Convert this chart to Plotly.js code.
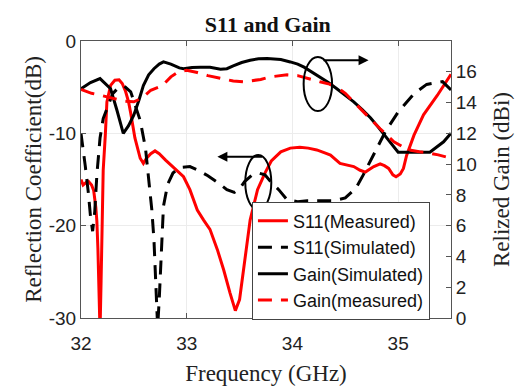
<!DOCTYPE html>
<html>
<head>
<meta charset="utf-8">
<script src="https://cdn.plot.ly/plotly-3.0.1.min.js"></script>
<style>html,body{margin:0;padding:0;background:#fff;}#chart{width:524px;height:386px;}</style>
</head>
<body>
<div id="chart"></div>
<script>
// ---- data ----
const s11MeasFreq = [32.00,32.02,32.05,32.07,32.10,32.12,32.14,32.15,32.16,32.17,32.18,32.19,32.20,32.21,32.23,32.245,32.28,32.32,32.36,32.39,32.42,32.45,32.47,32.51,32.56,32.59,32.62,32.66,32.70,32.74,32.80,32.86,32.91,32.97,33.03,33.10,33.16,33.22,33.29,33.35,33.41,33.46,33.50,33.55,33.60,33.67,33.74,33.80,33.89,33.98,34.07,34.15,34.23,34.30,34.36,34.45,34.52,34.58,34.64,34.69,34.73,34.77,34.83,34.87,34.91,34.95,34.98,35.02,35.05,35.08,35.15,35.24,35.37,35.50];
const s11MeasVal  = [-15.0,-15.6,-15.3,-15.2,-15.6,-16.2,-18.0,-19.5,-22.5,-26,-31.5,-26,-18,-14,-10.2,-6.6,-4.8,-4.25,-4.2,-4.6,-5.4,-6.6,-7.8,-10.5,-12.7,-13.25,-12.7,-12.2,-11.9,-12.2,-12.9,-13.5,-14.0,-14.7,-16.1,-18.3,-19.4,-20.4,-22.6,-24.8,-27.3,-29.2,-28,-23.7,-19.4,-16.1,-14.3,-13.0,-12.0,-11.6,-11.5,-11.6,-11.8,-12.1,-12.35,-13.25,-13.4,-13.6,-14.0,-14.2,-13.9,-13.6,-13.3,-13.5,-13.8,-14.5,-14.7,-14.4,-13.8,-12.4,-10.2,-8.0,-5.9,-3.6];

const s11SimFreq = [32.00,32.02,32.04,32.07,32.09,32.11,32.13,32.15,32.18,32.21,32.26,32.30,32.35,32.41,32.47,32.51,32.56,32.61,32.64,32.67,32.69,32.70,32.71,32.725,32.74,32.755,32.77,32.78,32.82,32.87,32.93,33.03,33.11,33.20,33.29,33.38,33.45,33.50,33.55,33.62,33.68,33.74,33.80,33.87,33.95,34.05,34.14,34.25,34.39,34.50,34.60,34.67,34.75,34.88,35.00,35.15,35.27,35.42,35.50];
const s11SimVal  = [-10.0,-11.5,-13.5,-16.5,-19,-20.6,-18.5,-14.5,-10.5,-8.4,-6.8,-5.7,-5.1,-4.9,-5.5,-6.9,-8.6,-11.6,-15.0,-18.3,-21.5,-24.8,-28,-31,-28,-24.4,-21.2,-17.9,-15.5,-14.3,-13.7,-13.6,-14.0,-14.6,-15.3,-16.1,-16.4,-16.0,-15.2,-14.5,-14.3,-14.5,-15.3,-16.1,-17.2,-17.4,-17.3,-17.3,-17.3,-17.0,-15.95,-14.5,-12.7,-9.8,-7.7,-5.7,-4.7,-4.4,-5.3];

const gainSimFreq = [32.00,32.09,32.18,32.28,32.34,32.40,32.45,32.50,32.55,32.59,32.64,32.69,32.74,32.78,32.85,32.93,32.97,33.05,33.13,33.22,33.32,33.38,33.44,33.52,33.60,33.68,33.76,33.89,33.98,34.05,34.11,34.18,34.26,34.34,34.42,34.50,34.58,34.66,34.74,34.80,34.86,34.93,35.00,35.30,35.43,35.50];
const gainSimVal  = [14.9,15.3,15.56,14.9,13.5,12.0,12.5,13.2,14.2,15.1,15.8,16.2,16.5,16.64,16.5,16.25,16.2,16.28,16.3,16.3,16.17,16.2,16.38,16.6,16.75,16.85,16.86,16.8,16.64,16.5,16.3,16.0,15.67,15.3,14.9,14.5,14.05,13.55,13.0,12.5,12.0,11.35,10.77,10.77,11.45,12.0];

const gainMeasFreq = [32.00,32.10,32.20,32.29,32.40,32.50,32.58,32.66,32.77,32.85,32.92,33.00,33.10,33.20,33.32,33.44,33.54,33.62,33.70,33.79,33.89,33.95,34.05,34.14,34.26,34.35,34.42,34.50,34.61,34.70,34.83,34.96,35.05,35.12,35.20,35.27,35.38,35.49];
const gainMeasVal  = [14.85,14.6,14.45,14.27,14.1,14.05,14.3,14.8,15.1,15.67,16.0,16.1,15.95,15.75,15.56,15.4,15.35,15.42,15.5,15.67,15.78,15.8,15.75,15.56,15.35,15.2,15.0,14.6,13.8,13.2,12.3,11.45,11.1,10.9,10.8,10.75,10.6,10.4];

const seriesNames = ['S11(Measured)','S11(Simulated)','Gain(Simulated)','Gain(measured)'];
const xTickVals = [32,33,34,35];
const yLeftTicks = [-30,-20,-10,0];
const yRightTicks = [0,2,4,6,8,10,12,14,16];

// ---- chart ----
const sans = 'Liberation Sans, Arial, sans-serif';
const serif = 'Liberation Serif, Times New Roman, serif';
const axisCol = '#555';

const traces = [
  {x:s11MeasFreq, y:s11MeasVal, name:seriesNames[0], type:'scatter', mode:'lines',
   line:{color:'#ff0000', width:3}, yaxis:'y'},
  {x:s11SimFreq, y:s11SimVal, name:seriesNames[1], type:'scatter', mode:'lines',
   line:{color:'#000000', width:3, dash:'14px,9px'}, yaxis:'y'},
  {x:gainSimFreq, y:gainSimVal, name:seriesNames[2], type:'scatter', mode:'lines',
   line:{color:'#000000', width:3}, yaxis:'y2'},
  {x:gainMeasFreq, y:gainMeasVal, name:seriesNames[3], type:'scatter', mode:'lines',
   line:{color:'#ff0000', width:3, dash:'14px,9px'}, yaxis:'y2'}
];

const layout = {
  width:524, height:386,
  margin:{l:81, r:73, t:41, b:68, pad:0},
  paper_bgcolor:'#ffffff', plot_bgcolor:'#ffffff',
  showlegend:true,
  title:{text:'<b>S11 and Gain</b>', font:{family:serif, size:22, color:'#111'},
         x:0.505, xref:'paper', y:1-24/386, yref:'container', yanchor:'middle'},
  xaxis:{range:[32,35.5], tickvals:xTickVals, ticktext:xTickVals.map(String),
         ticks:'inside', ticklen:5, tickcolor:axisCol, showline:true, linecolor:axisCol, linewidth:1,
         mirror:'ticks', showgrid:true, gridcolor:'#ececec', zeroline:false,
         ticklabelstandoff:8,
         tickfont:{family:sans, size:19, color:'#222'},
         title:{text:'Frequency (GHz)', font:{family:serif, size:23, color:'#222'}, standoff:14}},
  yaxis:{range:[-30,0], tickvals:yLeftTicks, ticktext:yLeftTicks.map(String),
         ticks:'inside', ticklen:5, tickcolor:axisCol, showline:true, linecolor:axisCol, linewidth:1,
         showgrid:true, gridcolor:'#ececec', zeroline:false,
         tickfont:{family:sans, size:19, color:'#222'},
         title:{text:'Reflection Coefficient(dB)', font:{family:serif, size:23, color:'#222'}, standoff:0}},
  yaxis2:{range:[0,18], tickvals:yRightTicks, ticktext:yRightTicks.map(String),
         overlaying:'y', side:'right', anchor:'x',
         ticks:'inside', ticklen:5, tickcolor:axisCol, showline:true, linecolor:axisCol, linewidth:1,
         showgrid:false, zeroline:false,
         tickfont:{family:sans, size:19, color:'#222'},
         title:{text:'Relized Gain (dBi)', font:{family:serif, size:23, color:'#222'}, standoff:16}},
  legend:{x:0.462, y:0.42, xanchor:'left', yanchor:'top', xref:'paper', yref:'paper',
          font:{family:sans, size:18, color:'#111'}, bgcolor:'#ffffff',
          bordercolor:'#444', borderwidth:1, tracegroupgap:0, itemwidth:30},
  shapes:[
    {type:'circle', xref:'x', yref:'y', x0:34.106, x1:34.375, y0:-1.73, y1:-7.59,
     line:{color:'#000', width:2}},
    {type:'circle', xref:'x', yref:'y', x0:33.554, x1:33.80, y0:-12.35, y1:-18.29,
     line:{color:'#000', width:2}}
  ],
  annotations:[
    {xref:'x', yref:'y', axref:'x', ayref:'y', x:34.72, y:-2.08, ax:34.28, ay:-2.08,
     text:'', showarrow:true, arrowhead:2, arrowsize:1, arrowwidth:2, arrowcolor:'#000'},
    {xref:'x', yref:'y', axref:'x', ayref:'y', x:33.29, y:-12.53, ax:33.73, ay:-12.53,
     text:'', showarrow:true, arrowhead:2, arrowsize:1, arrowwidth:2, arrowcolor:'#000'}
  ]
};

Plotly.newPlot('chart', traces, layout, {displayModeBar:false, staticPlot:true});
</script>
</body>
</html>
